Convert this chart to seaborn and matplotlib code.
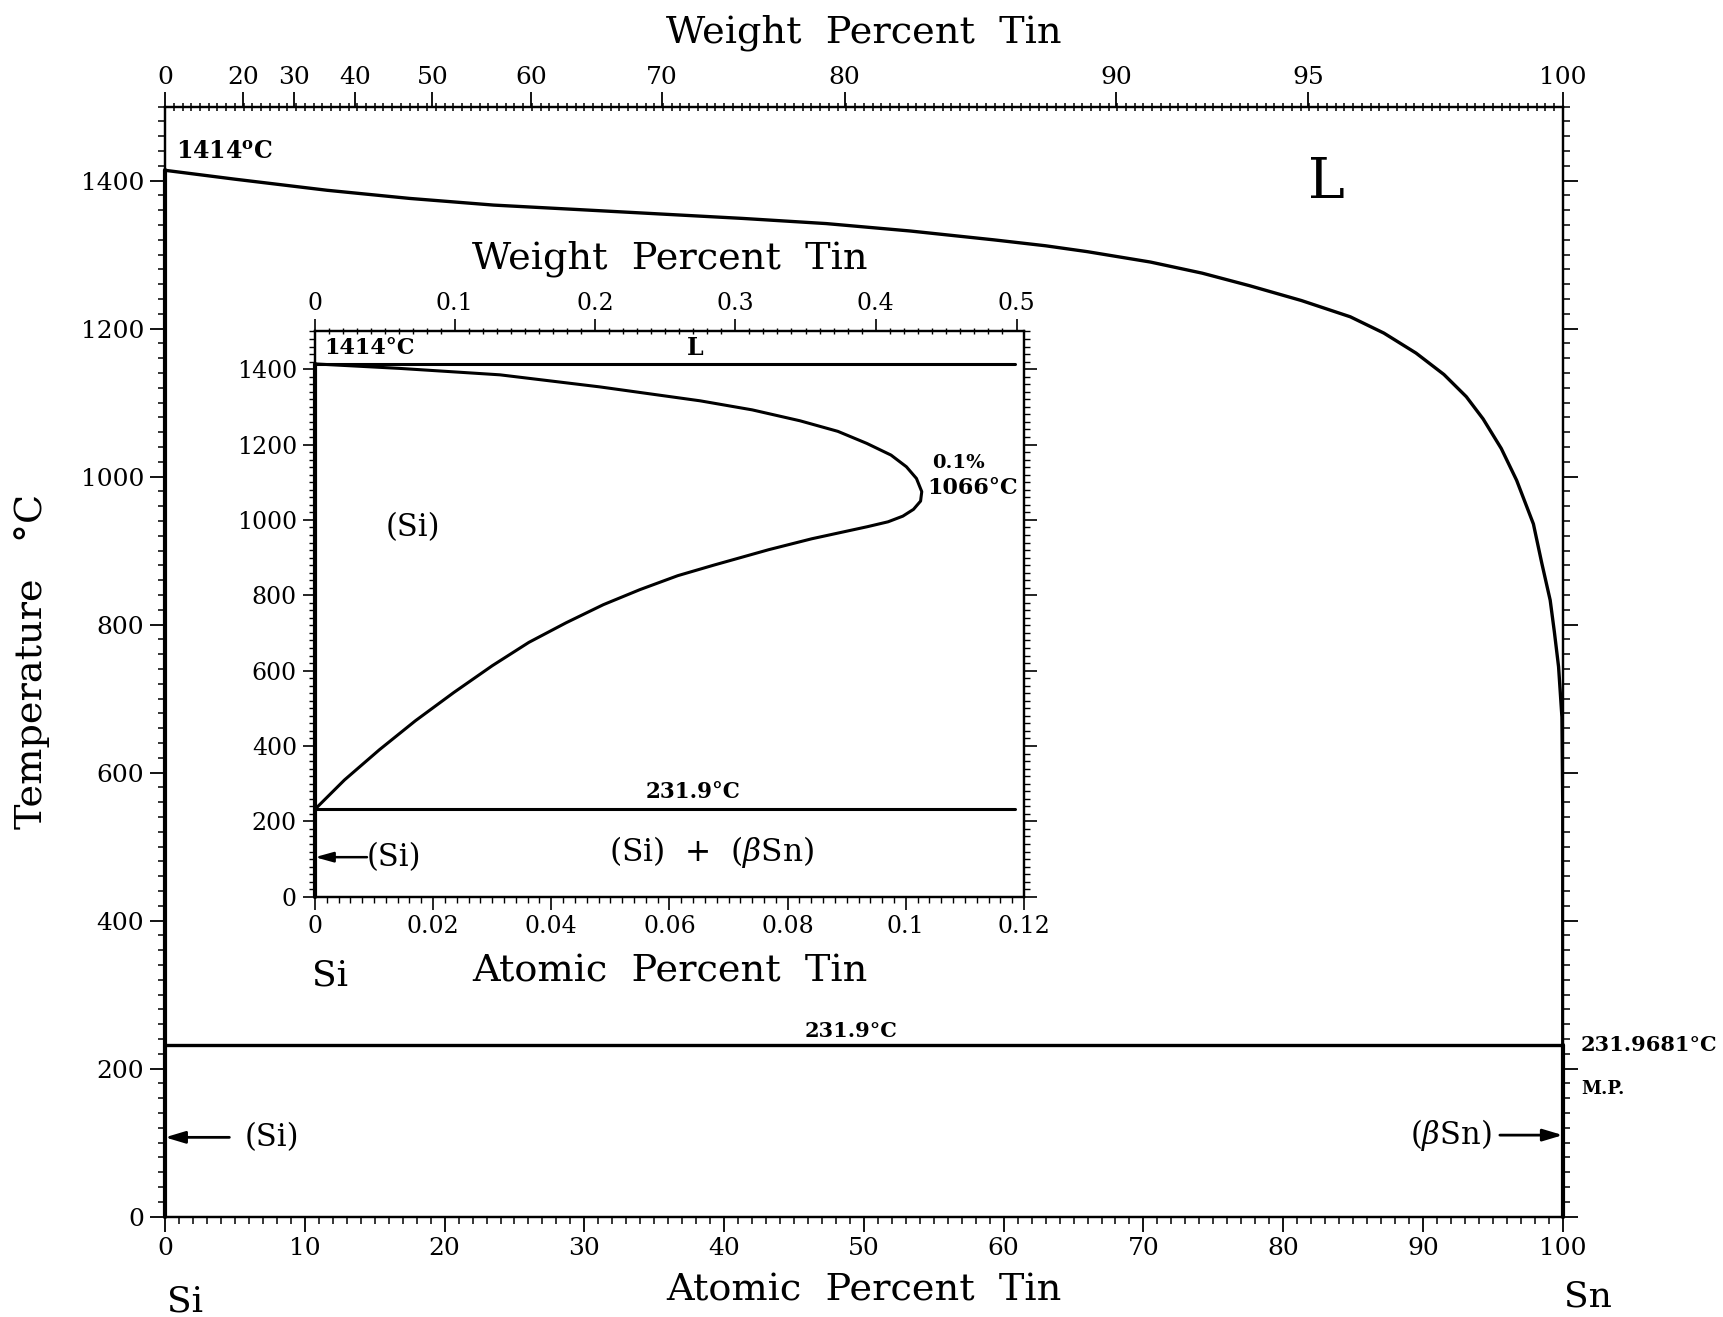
import numpy as np
import seaborn as sns
import matplotlib.pyplot as plt
from matplotlib.ticker import MultipleLocator, FixedLocator

sns.set_theme(style="ticks")
plt.rcParams['font.family'] = ['DejaVu Serif']
plt.rcParams['mathtext.fontset'] = 'dejavuserif'
plt.rcParams['axes.edgecolor'] = 'black'
plt.rcParams['axes.linewidth'] = 1.6
plt.rcParams['xtick.color'] = 'black'
plt.rcParams['ytick.color'] = 'black'
plt.rcParams['text.color'] = 'black'
plt.rcParams['axes.labelcolor'] = 'black'

# main diagram: liquidus (at.% Sn, deg C)
liq_at = [0, 5, 11.6, 17.5, 23.5, 29.5, 35.4, 41.3, 47.3, 53.3, 59.3, 63, 66, 70.5, 74.2,
          77.6, 81.3, 84.8, 87.2, 89.5, 91.5, 93.1, 94.3, 95.6, 96.7, 97.9, 98.5, 99.1,
          99.4, 99.7, 99.94, 100, 100]
liq_t = [1414, 1402, 1387, 1376, 1367, 1361, 1355, 1349, 1342, 1332, 1320, 1312, 1304, 1290,
         1275, 1258, 1238, 1216, 1194, 1167, 1138, 1108, 1078, 1038, 995, 936, 883, 833,
         790, 743, 675, 550, 231.97]
eut_t = 231.9
si_mp = 1414
sn_mp = 231.9681

# inset: retrograde solidus of (Si)
sol_at = [0, 0.0144, 0.0313, 0.0482, 0.0652, 0.0740, 0.0821, 0.0885, 0.0934, 0.0975,
          0.1001, 0.1018, 0.1027, 0.1025, 0.1013, 0.0995, 0.0970, 0.0935, 0.0885,
          0.0841, 0.0768, 0.0675, 0.0614, 0.0550, 0.0488, 0.0425, 0.0362, 0.0300,
          0.0235, 0.0170, 0.0109, 0.0050, 0]
sol_t = [1414, 1402, 1385, 1353, 1316, 1292, 1263, 1235, 1203, 1172,
         1141, 1110, 1075, 1050, 1028, 1010, 995, 982, 965,
         950, 921, 880, 852, 815, 775, 727, 675, 613,
         542, 467, 390, 310, 232]
inset_end = 0.1185

wt_main = [0, 20, 30, 40, 50, 60, 70, 80, 90, 95, 100]
wt_inset = [0, 0.1, 0.2, 0.3, 0.4, 0.5]

M_SN, M_SI = 118.71, 28.0855


def wt_to_at(w):
    w = np.asarray(w, dtype=float)
    n_sn = w / M_SN
    n_si = (100 - w) / M_SI
    return 100 * n_sn / (n_sn + n_si)


def line(ax, x, y, lw=2.4, clip=True):
    sns.lineplot(x=x, y=y, ax=ax, sort=False, estimator=None, color='black',
                 lw=lw, legend=False, clip_on=clip)


bold = dict(fontweight='bold')
lab = 27.5

fig = plt.figure(figsize=(17.23, 13.17), dpi=100)
ax = fig.add_axes([0.0958, 0.0763, 0.8112, 0.8427])

line(ax, liq_at, liq_t)
line(ax, [0, 100], [eut_t, eut_t])
line(ax, [0, 0], [0, si_mp], lw=3, clip=False)
line(ax, [100, 100], [0, sn_mp], lw=3, clip=False)

ax.set_xlim(0, 100)
ax.set_ylim(0, 1500)
ax.set_xticks(range(0, 101, 10))
ax.xaxis.set_minor_locator(MultipleLocator(1))
ax.set_yticks(range(0, 1401, 200))
ax.yaxis.set_minor_locator(MultipleLocator(20))
ax.tick_params(which='both', direction='out', left=True, right=True, bottom=True,
               top=False, labelsize=18)
ax.tick_params(which='major', length=11, width=1.3, pad=4)
ax.tick_params(which='minor', length=5, width=1.1)
ax.set_xlabel("Atomic  Percent  Tin", fontsize=lab)
ax.xaxis.set_label_coords(0.5, -0.05)
ax.set_ylabel("Temperature   °C", fontsize=lab)
ax.yaxis.set_label_coords(-0.082, 0.5)

ax_top = ax.twiny()
ax_top.set_xlim(0, 100)
ax_top.set_xticks(wt_to_at(wt_main), labels=[str(v) for v in wt_main])
ax_top.xaxis.set_minor_locator(MultipleLocator(0.625))
ax_top.tick_params(which='major', direction='out', length=11, width=1.3, pad=2,
                   labelsize=18)
ax_top.tick_params(which='minor', direction='inout', length=6, width=1.1)
ax_top.set_xlabel("Weight  Percent  Tin", fontsize=lab)
ax_top.xaxis.set_label_coords(0.5, 1.058)

ax.text(0.8, 1422, "1414$^{\\mathbf{o}}$C", fontsize=17, ha='left', va='bottom', **bold)
ax.text(83.1, 1397, "L", fontsize=40, ha='center', va='center')
ax.text(49.1, 237, "231.9°C", fontsize=15, ha='center', va='bottom', **bold)
ax.text(101.3, 232, "231.9681°C", fontsize=15, ha='left', va='center', clip_on=False, **bold)
ax.text(101.3, 173, "M.P.", fontsize=13, ha='left', va='center', clip_on=False, **bold)
ax.annotate("", xy=(0, 107), xytext=(4.6, 107),
            arrowprops=dict(arrowstyle='-|>,head_length=1.0,head_width=0.3',
                            color='black', lw=2, shrinkA=0, shrinkB=0))
ax.text(5.7, 107, "(Si)", fontsize=22, ha='left', va='center')
ax.annotate("", xy=(100, 110), xytext=(95.5, 110),
            arrowprops=dict(arrowstyle='-|>,head_length=1.0,head_width=0.3',
                            color='black', lw=2, shrinkA=0, shrinkB=0))
ax.text(94.9, 110, "($\\beta$Sn)", fontsize=22, ha='right', va='center')
ax.text(1.4, -0.077, "Si", transform=ax.get_xaxis_transform(), fontsize=26,
        ha='center', va='center')
ax.text(101.8, -0.072, "Sn", transform=ax.get_xaxis_transform(), fontsize=26,
        ha='center', va='center')

# inset
ax_in = fig.add_axes([0.1828, 0.3191, 0.4115, 0.4292])
ax_in.set_zorder(5)
ax_in.set_facecolor('white')
line(ax_in, sol_at, sol_t, lw=2.2)
line(ax_in, [0, inset_end], [si_mp, si_mp], lw=2.2)
line(ax_in, [0, inset_end], [eut_t, eut_t], lw=2.2)
line(ax_in, [0, 0], [0, si_mp], lw=3, clip=False)

ax_in.set_xlim(0, 0.12)
ax_in.set_ylim(0, 1500)
ax_in.set_xticks(np.arange(0, 0.121, 0.02))
ax_in.xaxis.set_major_formatter(plt.FuncFormatter(lambda v, p: f"{v:g}"))
ax_in.xaxis.set_minor_locator(MultipleLocator(0.002))
ax_in.set_yticks(range(0, 1401, 200))
ax_in.yaxis.set_minor_locator(MultipleLocator(20))
ax_in.tick_params(which='both', direction='out', left=True, right=True, bottom=True,
                  top=False, labelsize=17)
ax_in.tick_params(which='major', length=9, width=1.2, pad=4)
ax_in.tick_params(which='minor', length=4, width=1.0)
ax_in.set_xlabel("Atomic  Percent  Tin", fontsize=lab)
ax_in.xaxis.set_label_coords(0.5, -0.1)

ax_in_top = ax_in.twiny()
ax_in_top.set_zorder(6)
ax_in_top.set_xlim(0, 0.12)
ax_in_top.set_xticks(wt_to_at(wt_inset), labels=[f"{v:g}" for v in wt_inset])
ax_in_top.xaxis.set_minor_locator(FixedLocator(wt_to_at(np.arange(0, 0.505, 0.01))))
ax_in_top.tick_params(which='major', direction='out', length=9, width=1.2, pad=3,
                      labelsize=17)
ax_in_top.tick_params(which='minor', direction='inout', length=5, width=1.0)
ax_in_top.set_xlabel("Weight  Percent  Tin", fontsize=lab)
ax_in_top.xaxis.set_label_coords(0.5, 1.112)

ax_in.text(0.0015, 1428, "1414°C", fontsize=16, ha='left', va='bottom', **bold)
ax_in.text(0.0644, 1425, "L", fontsize=17, ha='center', va='bottom', **bold)
ax_in.text(0.1089, 1150, "0.1%", fontsize=14, ha='center', va='center', **bold)
ax_in.text(0.1036, 1085, "1066°C", fontsize=16, ha='left', va='center', **bold)
ax_in.text(0.0166, 980, "(Si)", fontsize=22, ha='center', va='center')
ax_in.text(0.064, 248, "231.9°C", fontsize=15.5, ha='center', va='bottom', **bold)
ax_in.text(0.0672, 120, "(Si)  +  ($\\beta$Sn)", fontsize=22.5, ha='center', va='center')
ax_in.annotate("", xy=(0, 105), xytext=(0.0088, 105),
               arrowprops=dict(arrowstyle='-|>,head_length=0.9,head_width=0.25',
                               color='black', lw=1.8, shrinkA=0, shrinkB=0))
ax_in.text(0.0088, 105, "(Si)", fontsize=22, ha='left', va='center')
ax_in.text(0.0026, -0.139, "Si", transform=ax_in.get_xaxis_transform(), fontsize=26,
           ha='center', va='center')

fig.savefig("out.png", dpi=100)
